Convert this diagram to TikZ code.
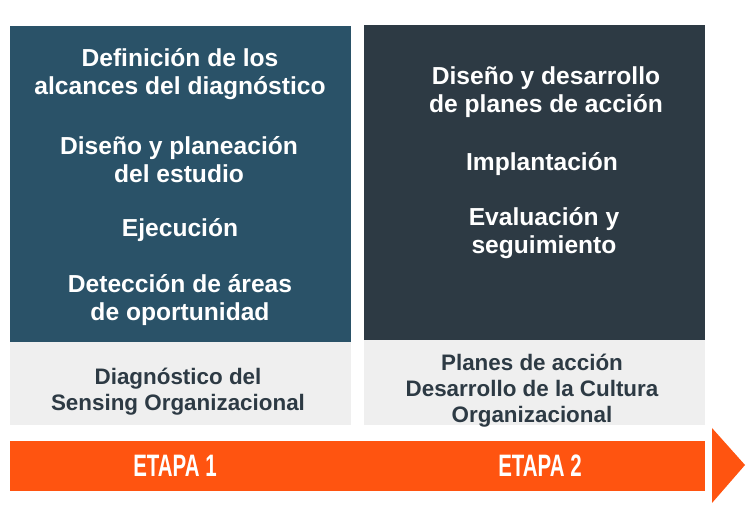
\documentclass[tikz,border=0pt]{standalone}
\usepackage{fontspec}
\setmainfont{Liberation Sans}
\newfontfamily\etapafont[FakeStretch=0.66]{Liberation Sans}
\definecolor{stageblue}{HTML}{2A5268}
\definecolor{stagedark}{HTML}{2D3A44}
\definecolor{stagegray}{HTML}{EFEFEF}
\definecolor{stageorange}{HTML}{FF5410}
\tikzset{
  phase/.style={text=white, align=center, font=\bfseries\fontsize{24.6}{28}\selectfont},
  result/.style={text=stagedark, align=center, font=\bfseries\fontsize{22.4}{26}\selectfont},
  etapa/.style={text=white, font=\etapafont\bfseries\fontsize{31}{31}\selectfont}
}
\begin{document}
\begin{tikzpicture}[x=1pt,y=1pt]
  \useasboundingbox (0,0) rectangle (755,530);

  % boxes
  \fill[stageblue] (10,188) rectangle (351,504);
  \fill[stagedark] (364,190) rectangle (705,505);
  \fill[stagegray] (10,105) rectangle (351,188);
  \fill[stagegray] (364,105) rectangle (705,190);

  % arrow bar
  \fill[stageorange] (10,39) rectangle (705,89);
  \fill[stageorange] (712,102) -- (745,65) -- (712,27) -- cycle;

  % stage 1
  \node[phase] (alcances) at (180,455.5) {Definición de los\\alcances del diagnóstico};
  \node[phase] (planeacion) at (179,370.5) {Diseño y planeación\\del estudio};
  \node[phase] (ejecucion) at (180,300) {Ejecución};
  \node[phase] (deteccion) at (180,229.5) {Detección de áreas\\de oportunidad};

  % stage 2
  \node[phase] (planes) at (546,437.5) {Diseño y desarrollo\\de planes de acción};
  \node[phase] (implantacion) at (542,366) {Implantación};
  \node[phase] (evaluacion) at (544,296.5) {Evaluación y\\seguimiento};

  % results
  \node[result] (sensing) at (178,138) {Diagnóstico del\\Sensing Organizacional};
  \node[result] (cultura) at (532,139) {Planes de acción\\Desarrollo de la Cultura\\Organizacional};

  \node[etapa] (etapa1) at (175,64) {ETAPA 1};
  \node[etapa] (etapa2) at (540,64) {ETAPA 2};
\end{tikzpicture}
\end{document}
